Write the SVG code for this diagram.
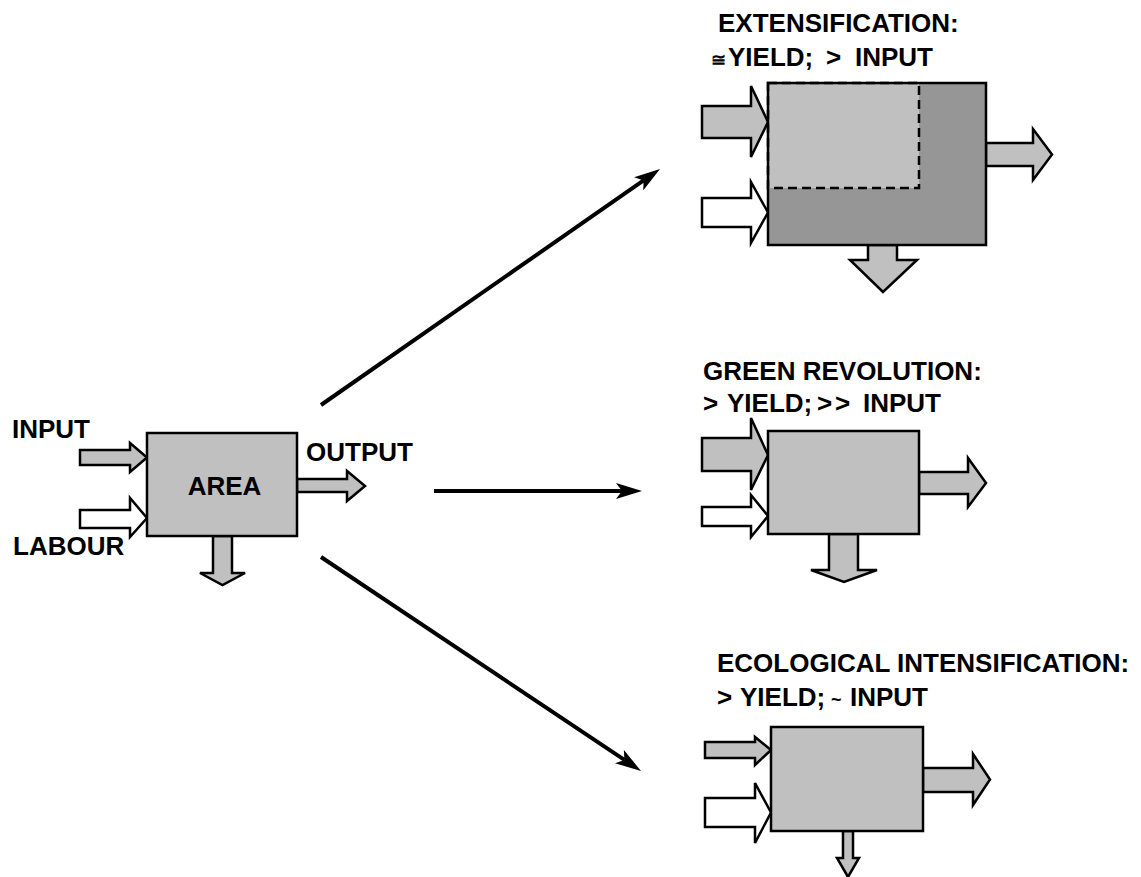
<svg xmlns="http://www.w3.org/2000/svg" width="1141" height="877" viewBox="0 0 1141 877">
<defs>
<style>
text{font-family:"Liberation Sans",Arial,sans-serif;font-weight:bold;font-size:26px;fill:#000}
.box{fill:#c0c0c0;stroke:#000;stroke-width:2.5}
.ga{fill:#c0c0c0;stroke:#000;stroke-width:2.5;stroke-linejoin:miter}
.wa{fill:#fff;stroke:#000;stroke-width:2.5;stroke-linejoin:miter}
.conn{stroke:#000;stroke-width:4;fill:none}
.sm{font-size:18px}
</style>
<marker id="ah" markerUnits="userSpaceOnUse" viewBox="0 0 26 16" refX="6" refY="8" markerWidth="26" markerHeight="16" orient="auto">
<path d="M0,0 L26,8 L0,16 L6,8 Z" fill="#000"/>
</marker>
</defs>
<rect width="1141" height="877" fill="#fff"/>

<g id="connectors">
<line class="conn" x1="321" y1="405" x2="643.6" y2="180.4" marker-end="url(#ah)"/>
<line class="conn" x1="434" y1="491" x2="622" y2="491" marker-end="url(#ah)"/>
<line class="conn" x1="321" y1="557" x2="624.4" y2="759.9" marker-end="url(#ah)"/>
</g>

<g id="area">
<polygon class="ga" points="80,450 130,450 130,443 147,457.5 130,472 130,465 80,465"/>
<polygon class="wa" points="80,510 130,510 130,498 147,518 130,537 130,528 80,528"/>
<polygon class="ga" points="297,479 347,479 347,471 365,486 347,501 347,492 297,492"/>
<polygon class="ga" points="213,536 232,536 232,573 245,573 222.5,585 200,573 213,573"/>
<rect class="box" x="147" y="433" width="150" height="103"/>
<text x="224.5" y="495" text-anchor="middle">AREA</text>
<text x="12" y="438">INPUT</text>
<text x="13" y="555">LABOUR</text>
<text x="306" y="461">OUTPUT</text>
</g>

<g id="extensification">
<text x="718" y="32">EXTENSIFICATION:</text>
<text y="66"><tspan x="711" class="sm">≅</tspan><tspan x="728">YIELD;</tspan><tspan x="826">&gt;</tspan><tspan x="855">INPUT</tspan></text>
<polygon class="ga" points="702,106 751,106 751,86 768,122 751,157 751,138 702,138"/>
<polygon class="wa" points="702,198 751,198 751,182 768,212.5 751,243 751,227 702,227"/>
<polygon class="ga" points="986,143 1033,143 1033,129 1052,154.5 1033,180 1033,166 986,166"/>
<polygon class="ga" points="868,245 897,245 897,260 917,260 883,292 850,260 868,260"/>
<rect x="768" y="83" width="218" height="162" fill="#969696"/>
<rect x="768" y="83" width="151" height="105" fill="#c0c0c0" stroke="#000" stroke-width="2.5" stroke-dasharray="9,5"/>
<rect x="768" y="83" width="218" height="162" fill="none" stroke="#000" stroke-width="2.5"/>
</g>

<g id="green-revolution">
<text x="703" y="380">GREEN REVOLUTION:</text>
<text y="412"><tspan x="703">&gt;</tspan><tspan x="727">YIELD;</tspan><tspan x="817">&gt;</tspan><tspan x="835">&gt;</tspan><tspan x="863">INPUT</tspan></text>
<polygon class="ga" points="702,438 751,438 751,418 768,455 751,490 751,471 702,471"/>
<polygon class="wa" points="702,507 751,507 751,495 768,516 751,537 751,526 702,526"/>
<polygon class="ga" points="919,472 968,472 968,458 986,483 968,507 968,494 919,494"/>
<polygon class="ga" points="829,534 858,534 858,570 877,570 844,582 811,570 829,570"/>
<rect class="box" x="768" y="431" width="151" height="103"/>
</g>

<g id="ecological-intensification">
<text x="717" y="672">ECOLOGICAL INTENSIFICATION:</text>
<text y="706"><tspan x="717">&gt;</tspan><tspan x="740">YIELD;</tspan><tspan x="831" class="sm">~</tspan><tspan x="850">INPUT</tspan></text>
<polygon class="ga" points="705,742 755,742 755,737 771,750 755,765 755,758 705,758"/>
<polygon class="wa" points="705,798 755,798 755,783 771,812.5 755,843 755,827 705,827"/>
<polygon class="ga" points="923,768 973,768 973,754 990,779.5 973,805 973,792 923,792"/>
<polygon class="ga" points="843,831 853,831 853,858 859,858 848,877 837,858 843,858"/>
<rect class="box" x="771" y="727" width="152" height="104"/>
</g>
</svg>
